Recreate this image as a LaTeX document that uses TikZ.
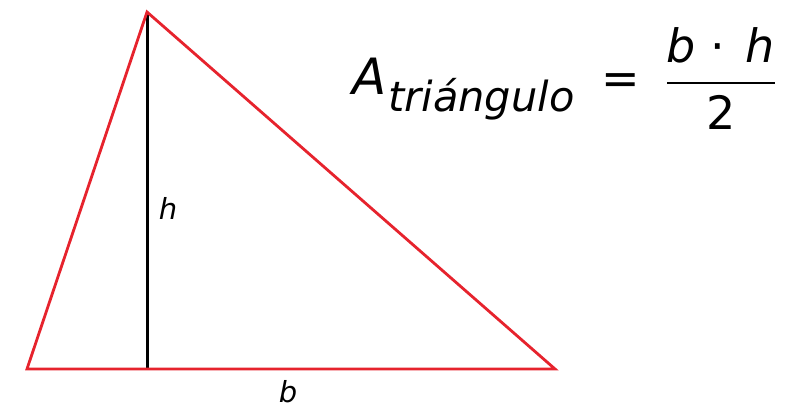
\documentclass[tikz,border=0pt]{standalone}
\usepackage{fontspec}
\setmainfont{DejaVu Sans}
\begin{document}
\begin{tikzpicture}[x=1pt,y=-1pt,
  redline/.style={draw={rgb,255:red,230;green,35;blue,45},line width=2.8pt,line join=miter},
  lbl/.style={inner sep=0pt,font=\fontsize{29}{32}\selectfont\itshape},
  big/.style={inner sep=0pt,font=\fontsize{50}{56}\selectfont\itshape},
  mid/.style={inner sep=0pt,font=\fontsize{46}{52}\selectfont}]
\useasboundingbox (0,0) rectangle (800,414);
\coordinate (L) at (27,369);
\coordinate (T) at (147,12);
\coordinate (R) at (555,369);
\coordinate (F) at (147,369);
\draw[line width=3pt] (T) -- (F);
\draw[redline] (L) -- (T) -- (R) -- cycle;
\node[lbl,anchor=base] (h) at (168,219) {h};
\node[lbl,anchor=base] (b) at (288,402) {b};
\node[big,anchor=base west] (A) at (352,95) {A};
\node[inner sep=0pt,anchor=base west,font=\fontsize{41.5}{46}\selectfont\itshape] (sub) at (388,112) {triángulo};
\node[mid,anchor=base] (eq) at (621,95) {=};
\node[mid,anchor=base west] (nb) at (666,63) {\itshape b};
\node[mid,anchor=base] (dot) at (718,63) {⋅};
\node[mid,anchor=base east] (nh) at (775,63) {\itshape h};
\draw[line width=1.6pt] (667,83) coordinate (r1) -- (775,83) coordinate (r2);
\node[mid,anchor=base] (den) at (721,130) {2};
\end{tikzpicture}
\end{document}
